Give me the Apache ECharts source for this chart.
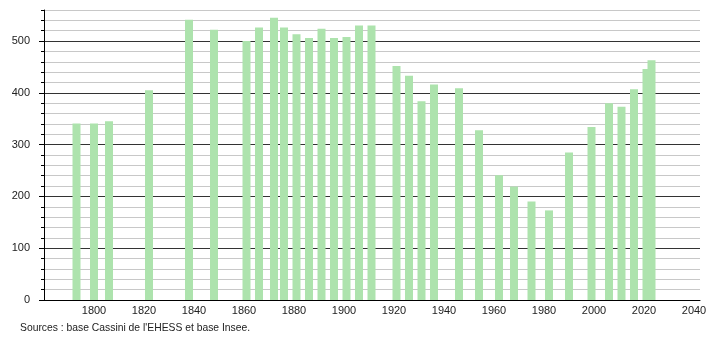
<!DOCTYPE html>
<html>
<head>
<meta charset="utf-8">
<script src="https://cdn.jsdelivr.net/npm/echarts@6/dist/echarts.min.js"></script>
<style>
html,body{margin:0;padding:0;background:#fff;}
#chart{width:710px;height:340px;}
</style>
</head>
<body>
<div id="chart"></div>
<script>
var years = [1793,1800,1806,1822,1838,1848,1861,1866,1872,1876,1881,1886,1891,1896,1901,1906,1911,1921,1926,1931,1936,1946,1954,1962,1968,1975,1982,1990,1999,2006,2011,2016,2021,2023];
var population = [341,341,345,405,541,522,500,526,545,526,513,506,524,506,508,530,530,452,433,384,416,409,328,241,219,190,173,285,334,380,373,407,446,463];
var yMajorTicks = [0,100,200,300,400,500];
var xTickLabels = [1800,1820,1840,1860,1880,1900,1920,1940,1960,1980,2000,2020,2040];
var sourceText = "Sources : base Cassini de l'EHESS et base Insee.";

var data = years.map(function(y, i){ return [y, population[i]]; });
var font = '"Liberation Sans", Arial, sans-serif';

var chart = echarts.init(document.getElementById('chart'), null, {renderer:'canvas'});
chart.setOption({
  animation: false,
  backgroundColor: '#ffffff',
  grid: {left: 44, right: 10, top: 10, bottom: 40, containLabel: false},
  xAxis: {
    type: 'value', min: 1780, max: 2042.4, interval: 20,
    axisLine: {show: true, lineStyle: {color: '#000', width: 1}},
    axisTick: {show: false},
    splitLine: {show: false},
    axisLabel: {
      margin: 5, color: '#222', fontSize: 11, fontFamily: font,
      showMinLabel: true, showMaxLabel: true,
      formatter: function(v){ return xTickLabels.indexOf(v) >= 0 ? String(v) : ''; }
    }
  },
  yAxis: [{
    type: 'value', min: 0, max: 560, interval: 20,
    axisLine: {show: true, lineStyle: {color: '#000', width: 1}},
    axisTick: {show: true, length: 3, lineStyle: {color: '#000'}},
    splitLine: {show: true, lineStyle: {color: ['#333','#c8c8c8','#c8c8c8','#c8c8c8','#c8c8c8'], width: 1}},
    axisLabel: {show: false}
  },{
    type: 'value', min: 0, max: 560, interval: 100, position: 'left',
    axisLine: {show: false},
    axisTick: {show: true, length: 5, customValues: yMajorTicks, lineStyle: {color: '#000'}},
    splitLine: {show: false},
    axisLabel: {
      show: true, margin: 14, color: '#222', fontSize: 11, fontFamily: font,
      customValues: yMajorTicks,
      formatter: function(v){ return yMajorTicks.indexOf(v) >= 0 ? String(v) : ''; }
    }
  }],
  series: [{
    type: 'bar',
    data: data,
    barWidth: 8,
    itemStyle: {color: '#ade3ad'}
  }],
  graphic: [{
    type: 'text', x: 20, y: 322, scaleX: 0.94,
    style: {text: sourceText, fill: '#222', font: '11px ' + font}
  }]
});
</script>
</body>
</html>
